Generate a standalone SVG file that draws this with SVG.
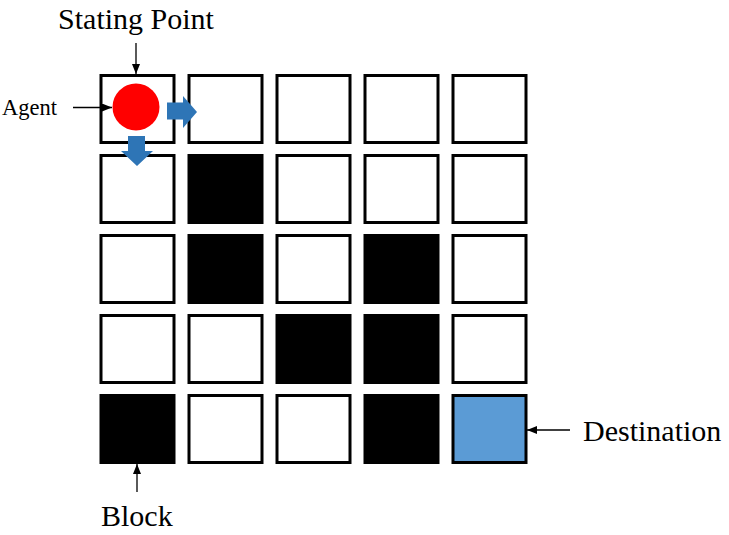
<svg xmlns="http://www.w3.org/2000/svg" width="729" height="535" viewBox="0 0 729 535">
<defs>
<style>
.cell{fill:#ffffff;stroke:#000000;stroke-width:3}
.block{fill:#000000;stroke:#000000;stroke-width:3}
.dest{fill:#5B9BD5;stroke:#000000;stroke-width:3}
.lbl{fill:#000000}
.conn{stroke:#000000;stroke-width:1.3;fill:none;marker-end:url(#ah)}
.move{fill:#2E75B6}
</style>
<marker id="ah" markerWidth="10" markerHeight="8" refX="10" refY="4" orient="auto" markerUnits="userSpaceOnUse">
<path d="M0,0 L10,4 L0,8 Z" fill="#000000"/>
</marker>
</defs>
<rect width="729" height="535" fill="#ffffff"/>
<g id="grid">
<g id="r1">
<rect id="c11" class="cell" x="101" y="75.5" width="73" height="67"/>
<rect id="c12" class="cell" x="189" y="75.5" width="73" height="67"/>
<rect id="c13" class="cell" x="277" y="75.5" width="73" height="67"/>
<rect id="c14" class="cell" x="365" y="75.5" width="73" height="67"/>
<rect id="c15" class="cell" x="453" y="75.5" width="73" height="67"/>
</g>
<g id="r2">
<rect id="c21" class="cell" x="101" y="155.5" width="73" height="67"/>
<rect id="c22" class="block" x="189" y="155.5" width="73" height="67"/>
<rect id="c23" class="cell" x="277" y="155.5" width="73" height="67"/>
<rect id="c24" class="cell" x="365" y="155.5" width="73" height="67"/>
<rect id="c25" class="cell" x="453" y="155.5" width="73" height="67"/>
</g>
<g id="r3">
<rect id="c31" class="cell" x="101" y="235.5" width="73" height="67"/>
<rect id="c32" class="block" x="189" y="235.5" width="73" height="67"/>
<rect id="c33" class="cell" x="277" y="235.5" width="73" height="67"/>
<rect id="c34" class="block" x="365" y="235.5" width="73" height="67"/>
<rect id="c35" class="cell" x="453" y="235.5" width="73" height="67"/>
</g>
<g id="r4">
<rect id="c41" class="cell" x="101" y="315.5" width="73" height="67"/>
<rect id="c42" class="cell" x="189" y="315.5" width="73" height="67"/>
<rect id="c43" class="block" x="277" y="315.5" width="73" height="67"/>
<rect id="c44" class="block" x="365" y="315.5" width="73" height="67"/>
<rect id="c45" class="cell" x="453" y="315.5" width="73" height="67"/>
</g>
<g id="r5">
<rect id="c51" class="block" x="101" y="395.5" width="73" height="67"/>
<rect id="c52" class="cell" x="189" y="395.5" width="73" height="67"/>
<rect id="c53" class="cell" x="277" y="395.5" width="73" height="67"/>
<rect id="c54" class="block" x="365" y="395.5" width="73" height="67"/>
<rect id="c55" class="dest" x="453" y="395.5" width="73" height="67"/>
</g>
</g>
<g id="agent">
<circle cx="136" cy="107" r="23.5" fill="#FF0000"/>
</g>
<g id="move-right">
<path class="move" d="M167,102.5 L183,102.5 L183,96 L197,112 L183,128 L183,119.5 L167,119.5 Z"/>
</g>
<g id="move-down">
<path class="move" d="M128,136 L145,136 L145,151 L153,151 L137,166 L121,151 L128,151 Z"/>
</g>
<g id="connectors">
<line class="conn" x1="136" y1="43" x2="136" y2="74"/>
<line class="conn" x1="73" y1="107.5" x2="112" y2="107.5"/>
<line class="conn" x1="137" y1="492" x2="137" y2="464"/>
<line class="conn" x1="570" y1="430" x2="527" y2="430"/>
</g>
<g id="labels" font-family="'Liberation Serif', 'Times New Roman', serif">
<text id="t-start" class="lbl" x="136" y="29" font-size="30" text-anchor="middle" font-family="'Liberation Serif', serif">Stating Point</text>
<text id="t-agent" class="lbl" x="2" y="115" font-size="22.5" font-family="'Liberation Serif', serif">Agent</text>
<text id="t-block" class="lbl" x="101" y="526" font-size="30" font-family="'Liberation Serif', serif">Block</text>
<text id="t-dest" class="lbl" x="583" y="441" font-size="30" font-family="'Liberation Serif', serif">Destination</text>
</g>
</svg>
